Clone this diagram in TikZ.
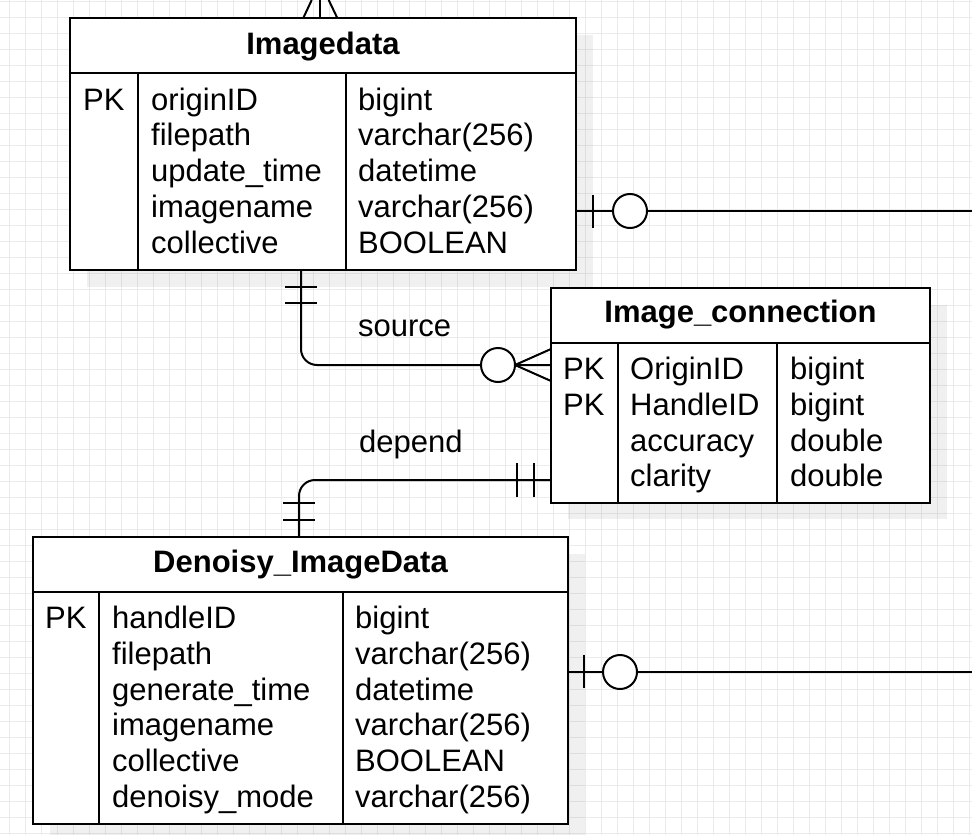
\documentclass[tikz,border=0pt]{standalone}
\usepackage{fontspec}
\setmainfont{Liberation Sans}
\usetikzlibrary{calc}
\definecolor{gridc}{HTML}{EBEBEB}
\tikzset{
  gridline/.style={draw=gridc, line width=1pt},
  shd/.style={fill=black, fill opacity=0.06, draw=none},
  tbl/.style={draw=black, line width=2pt, fill=white, inner sep=0pt, rectangle},
  tline/.style={draw=black, line width=2pt},
  conn/.style={draw=black, line width=2pt},
  circ/.style={draw=black, line width=2pt, fill=white, circle, inner sep=0pt, minimum size=34pt},
  hdr/.style={font=\bfseries\fontsize{31}{36}\selectfont, anchor=base, inner sep=0pt},
  txt/.style={font=\fontsize{31}{36}\selectfont, anchor=base west, inner sep=0pt},
}
\begin{document}
\begin{tikzpicture}[x=1pt,y=-1pt]
\useasboundingbox (0,0) rectangle (972,835);
\begin{scope}
  \clip (0,0) rectangle (972,835);
  \fill[white] (0,0) rectangle (972,835);
  \foreach \k in {0,...,60} \draw[gridline] (9.3+16*\k,0) -- (9.3+16*\k,835);
  \foreach \k in {0,...,52} \draw[gridline] (0,1.3+16*\k) -- (972,1.3+16*\k);
  % shadows
  \fill[shd] (87,35) rectangle (593,287);
  \fill[shd] (568,305) rectangle (947,519);
  \fill[shd] (50,554) rectangle (585,841);
\end{scope}

% ---------- connectors ----------
\coordinate (topA) at (320,18);
\coordinate (topB) at (320,0);
\coordinate (imgR) at (576,211);
\coordinate (imgRend) at (972,211);
\coordinate (denR) at (568,672);
\coordinate (denRend) at (972,672);
\coordinate (srcA) at (301,270);
\coordinate (srcB) at (551,365);
\coordinate (depA) at (551,480);
\coordinate (depB) at (299,537);

% top many
\draw[conn] (topA) -- (topB);
\draw[conn] (303.3,18) -- (311.7,0);
\draw[conn] (337.3,18) -- (328.7,0);

% Imagedata right: one / zero
\draw[conn] (imgR) -- (imgRend);
\draw[conn] (593,195) -- (593,228);
\node[circ] (imgcirc) at (630,211) {};

% Denoisy right: one / zero
\draw[conn] (denR) -- (denRend);
\draw[conn] (584,655) -- (584,688);
\node[circ] (dencirc) at (620,672) {};

% source
\draw[conn, rounded corners=16pt] (srcA) |- (srcB);
\draw[conn] (285,287) -- (317,287);
\draw[conn] (285,303) -- (317,303);
\draw[conn] (515,365) -- (551,349);
\draw[conn] (515,365) -- (551,381);
\node[circ] (srccirc) at (498,365) {};
\node[txt] (srclbl) at (358,336.5) {source};

% depend
\draw[conn, rounded corners=16pt] (depA) -| (depB);
\draw[conn] (517,463) -- (517,497);
\draw[conn] (534,463) -- (534,497);
\draw[conn] (283,503) -- (315,503);
\draw[conn] (283,520) -- (315,520);
\node[txt] (deplbl) at (359,452) {depend};

% ---------- Imagedata ----------
\node[tbl, minimum width=506pt, minimum height=252pt] (imgdata) at (323,144) {};
\draw[tline] (70,73) -- (576,73);
\draw[tline] (138,73) -- (138,270);
\draw[tline] (346,73) -- (346,270);
\node[hdr] (imgtitle) at (323,54) {Imagedata};
\node[txt] (imgpk) at (83,110) {PK};
\foreach \t [count=\i] in {originID,filepath,update\_time,imagename,collective}
  \node[txt] (imgc2-\i) at (151,110+35.8*\i-35.8) {\t};
\foreach \t [count=\i] in {bigint,varchar(256),datetime,varchar(256),BOOLEAN}
  \node[txt] (imgc3-\i) at (358,110+35.8*\i-35.8) {\t};

% ---------- Image_connection ----------
\node[tbl, minimum width=379pt, minimum height=215pt] (imgconn) at (740.5,395) {};
\draw[tline] (551,342.5) -- (930,342.5);
\draw[tline] (618,342.5) -- (618,502.5);
\draw[tline] (777,342.5) -- (777,502.5);
\node[hdr] (conntitle) at (740.5,322) {Image\_connection};
\node[txt] (connpk1) at (563,379.5) {PK};
\node[txt] (connpk2) at (563,415.3) {PK};
\foreach \t [count=\i] in {OriginID,HandleID,accuracy,clarity}
  \node[txt] (connc2-\i) at (630,379.5+35.8*\i-35.8) {\t};
\foreach \t [count=\i] in {bigint,bigint,double,double}
  \node[txt] (connc3-\i) at (790,379.5+35.8*\i-35.8) {\t};

% ---------- Denoisy_ImageData ----------
\node[tbl, minimum width=535.5pt, minimum height=286.5pt] (denoisy) at (300.5,680.25) {};
\draw[tline] (33,592) -- (568,592);
\draw[tline] (99,592) -- (99,823.5);
\draw[tline] (343,592) -- (343,823.5);
\node[hdr] (dentitle) at (300.5,572) {Denoisy\_ImageData};
\node[txt] (denpk) at (45,628.5) {PK};
\foreach \t [count=\i] in {handleID,filepath,generate\_time,imagename,collective,denoisy\_mode}
  \node[txt] (denc2-\i) at (112,628.5+35.8*\i-35.8) {\t};
\foreach \t [count=\i] in {bigint,varchar(256),datetime,varchar(256),BOOLEAN,varchar(256)}
  \node[txt] (denc3-\i) at (355,628.5+35.8*\i-35.8) {\t};
\end{tikzpicture}
\end{document}
